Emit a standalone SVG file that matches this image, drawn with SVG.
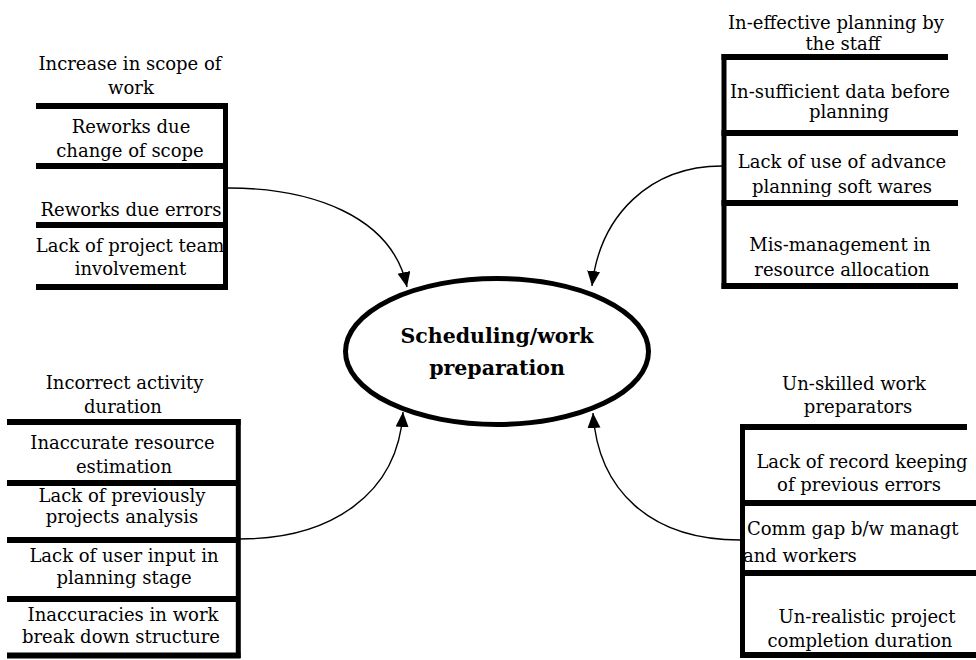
<svg xmlns="http://www.w3.org/2000/svg" width="976" height="660" viewBox="0 0 976 660">
<defs>
<style>
.t{font-family:"DejaVu Serif","Liberation Serif",serif;font-size:18px;fill:#000}
.c{text-anchor:middle}
.bar{stroke:#000;stroke-width:6;fill:none}
.vert{stroke:#000;stroke-width:5;fill:none}
.conn{stroke:#000;stroke-width:1.4;fill:none;marker-end:url(#ah)}
.main{font-family:"DejaVu Serif","Liberation Serif",serif;font-size:20.5px;font-weight:bold;text-anchor:middle;fill:#000}
</style>
<marker id="ah" markerUnits="userSpaceOnUse" markerWidth="16" markerHeight="14" refX="15" refY="6.5" orient="auto">
<path d="M0,0 L15,6.5 L0,13 Z" fill="#000"/>
</marker>
</defs>
<rect width="976" height="660" fill="#fff"/>

<g id="center">
<ellipse cx="497" cy="351.5" rx="151.5" ry="73" fill="#fff" stroke="#000" stroke-width="5"/>
<text class="main" x="497" y="343">Scheduling/work</text>
<text class="main" x="497" y="375">preparation</text>
</g>

<g id="scope">
<text class="t c" x="130" y="70">Increase in scope of</text>
<text class="t c" x="131" y="94">work</text>
<path class="bar" d="M36,106 H228 M36,166 H225 M36,225 H225 M36,287 H228"/>
<path class="vert" d="M225.5,103 V290"/>
<text class="t c" x="131" y="133">Reworks due</text>
<text class="t c" x="130" y="157">change of scope</text>
<text class="t c" x="131" y="216">Reworks due errors</text>
<text class="t c" x="130" y="252">Lack of project team</text>
<text class="t c" x="130.5" y="275">involvement</text>
</g>

<g id="planning">
<text class="t c" x="836" y="29">In-effective planning by</text>
<text class="t c" x="843" y="50">the staff</text>
<path class="bar" d="M721.5,57 H948 M721.5,133 H958 M721.5,203 H958 M721.5,286 H958"/>
<path class="vert" d="M724,54 V289"/>
<text class="t c" x="840" y="98">In-sufficient data before</text>
<text class="t c" x="849" y="118">planning</text>
<text class="t c" x="842" y="168">Lack of use of advance</text>
<text class="t c" x="842" y="193">planning soft wares</text>
<text class="t c" x="840" y="251">Mis-management in</text>
<text class="t c" x="842" y="276">resource allocation</text>
</g>

<g id="duration">
<text class="t c" x="124.5" y="389">Incorrect activity</text>
<text class="t c" x="123" y="413">duration</text>
<path class="bar" d="M7,422 H240.5 M7,483 H238 M7,540 H238 M7,599 H238 M7,655.5 H240.5"/>
<path class="vert" d="M238.3,419 V658"/>
<text class="t c" x="122.5" y="449">Inaccurate resource</text>
<text class="t c" x="124" y="473">estimation</text>
<text class="t c" x="122" y="502">Lack of previously</text>
<text class="t c" x="122" y="523">projects analysis</text>
<text class="t c" x="124" y="562">Lack of user input in</text>
<text class="t c" x="124" y="584">planning stage</text>
<text class="t c" x="123" y="621">Inaccuracies in work</text>
<text class="t c" x="121" y="643">break down structure</text>
</g>

<g id="preparators">
<text class="t c" x="854" y="390">Un-skilled work</text>
<text class="t c" x="858" y="413">preparators</text>
<text class="t c" x="862" y="468">Lack of record keeping</text>
<text class="t c" x="859" y="491">of previous errors</text>
<text class="t" x="747" y="535">Comm gap b/w managt</text>
<text class="t" x="743" y="562">and workers</text>
<text class="t c" x="867" y="623">Un-realistic project</text>
<text class="t c" x="860" y="647">completion duration</text>
<path class="bar" d="M740,427 H967 M740,503 H976 M740,573 H976 M740,655 H976"/>
<path class="vert" d="M742.5,424 V658"/>
</g>

<g id="connectors">
<path class="conn" d="M228,188 C310,188 392,215 407,287"/>
<path class="conn" d="M722,166 C650,166 600,215 592,286"/>
<path class="conn" d="M240,539 C330,539 398,495 403,412"/>
<path class="conn" d="M740,540 C650,540 598,490 593,413"/>
</g>
</svg>
